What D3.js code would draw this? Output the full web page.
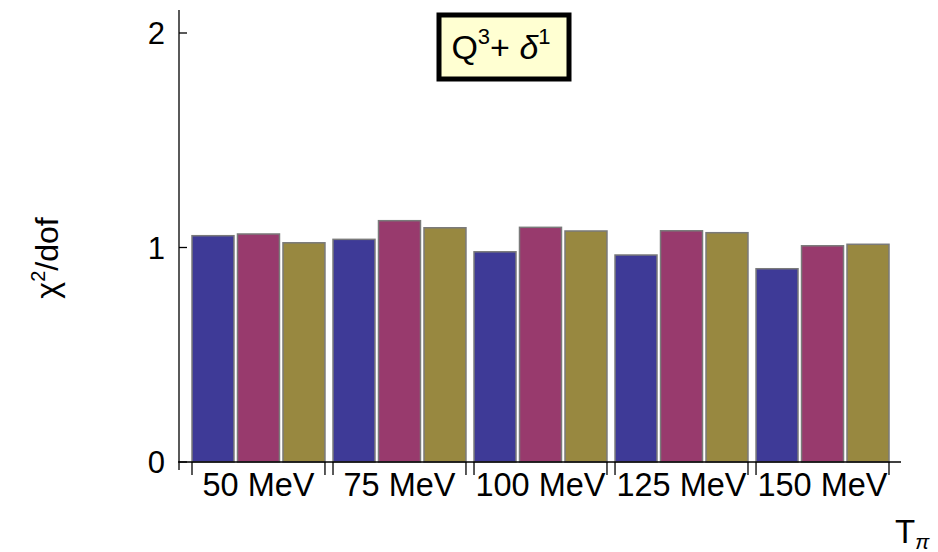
<!DOCTYPE html>
<html>
<head>
<meta charset="utf-8">
<script src="https://cdn.jsdelivr.net/npm/d3@7"></script>
<style>
  body { margin: 0; background: #fff; }
  text { font-family: "Liberation Sans", Arial, sans-serif; }
</style>
</head>
<body>
<div id="chart"></div>
<script>
var energies = ["50 MeV", "75 MeV", "100 MeV", "125 MeV", "150 MeV"];
var seriesNames = ["fit_a", "fit_b", "fit_c"];
var seriesA = [1.055, 1.038, 0.980, 0.965, 0.901];
var seriesB = [1.063, 1.125, 1.094, 1.078, 1.008];
var seriesC = [1.022, 1.092, 1.077, 1.069, 1.015];
var yTicks = [0, 1, 2];

var colors = ["#3e3a97", "#983a6d", "#988840"];
var allSeries = [seriesA, seriesB, seriesC];

var width = 938, height = 552;

var svg = d3.select("#chart").append("svg")
  .attr("width", width)
  .attr("height", height);

var y = d3.scaleLinear().domain([0, 2]).range([462, 33]);

var x0 = d3.scaleBand()
  .domain(energies)
  .range([192, 889])
  .paddingInner(0.057)
  .paddingOuter(0);

var x1 = d3.scaleBand()
  .domain(seriesNames)
  .range([0, x0.bandwidth()])
  .paddingInner(0.077)
  .paddingOuter(0);

// bars
var groups = svg.selectAll("g.grp")
  .data(energies)
  .enter().append("g")
  .attr("class", "grp")
  .attr("transform", function(d){ return "translate(" + x0(d) + ",0)"; });

groups.selectAll("rect")
  .data(function(d, i){
    return seriesNames.map(function(s, j){ return {s: s, v: allSeries[j][i], c: colors[j]}; });
  })
  .enter().append("rect")
  .attr("x", function(d){ return x1(d.s); })
  .attr("width", x1.bandwidth())
  .attr("y", function(d){ return y(d.v); })
  .attr("height", function(d){ return y(0) - y(d.v); })
  .attr("fill", function(d){ return d.c; })
  .attr("stroke", "#7a7a7a")
  .attr("stroke-width", 1.5);

// axes lines
svg.append("line")
  .attr("x1", 179).attr("x2", 179)
  .attr("y1", 10).attr("y2", 470)
  .attr("stroke", "#000").attr("stroke-width", 1.3);

svg.append("line")
  .attr("x1", 178).attr("x2", 901)
  .attr("y1", y(0)).attr("y2", y(0))
  .attr("stroke", "#000").attr("stroke-width", 1.3);

// y ticks
svg.selectAll("line.ytick")
  .data(yTicks)
  .enter().append("line")
  .attr("class", "ytick")
  .attr("x1", 179).attr("x2", 187)
  .attr("y1", function(d){ return y(d); })
  .attr("y2", function(d){ return y(d); })
  .attr("stroke", "#000").attr("stroke-width", 1.3);

svg.selectAll("text.ylab")
  .data(yTicks)
  .enter().append("text")
  .attr("class", "ylab")
  .attr("x", 165)
  .attr("y", function(d){ return y(d) + 11; })
  .attr("text-anchor", "end")
  .attr("font-size", "31px")
  .text(function(d){ return d; });

// group brackets
energies.forEach(function(e){
  [x0(e), x0(e) + x0.bandwidth()].forEach(function(xx){
    svg.append("line")
      .attr("x1", xx).attr("x2", xx)
      .attr("y1", y(0)).attr("y2", y(0) + 13)
      .attr("stroke", "#000").attr("stroke-width", 1.3);
  });
});

svg.selectAll("text.xlab")
  .data(energies)
  .enter().append("text")
  .attr("class", "xlab")
  .attr("x", function(d){ return x0(d) + x0.bandwidth() / 2; })
  .attr("y", 496)
  .attr("text-anchor", "middle")
  .attr("font-size", "32.5px")
  .text(function(d){ return d; });

// axis titles
var yt = svg.append("text")
  .attr("transform", "translate(58,258) rotate(-90)")
  .attr("text-anchor", "middle")
  .attr("font-size", "32px");
yt.append("tspan").text("\u03c7");
yt.append("tspan").attr("font-size", "20px").attr("dy", -13).text("2");
yt.append("tspan").attr("dy", 13).text("/dof");

var xt = svg.append("text")
  .attr("x", 895)
  .attr("y", 543)
  .attr("font-size", "33px");
xt.append("tspan").text("T");
xt.append("tspan").attr("font-size", "21px").attr("font-style", "italic").attr("dy", 6).text("\u03c0");

// label box
svg.append("rect")
  .attr("x", 439).attr("y", 15)
  .attr("width", 130).attr("height", 64)
  .attr("fill", "#ffffd2")
  .attr("stroke", "#000")
  .attr("stroke-width", 5);

var lab = svg.append("text")
  .attr("x", 501)
  .attr("y", 59)
  .attr("text-anchor", "middle")
  .attr("font-size", "34px");
lab.append("tspan").text("Q");
lab.append("tspan").attr("font-size", "22px").attr("dy", -15).text("3");
lab.append("tspan").attr("dy", 15).text("+ ");
lab.append("tspan").attr("font-style", "italic").text("\u03b4");
lab.append("tspan").attr("font-size", "22px").attr("dy", -15).text("1");
</script>
</body>
</html>
